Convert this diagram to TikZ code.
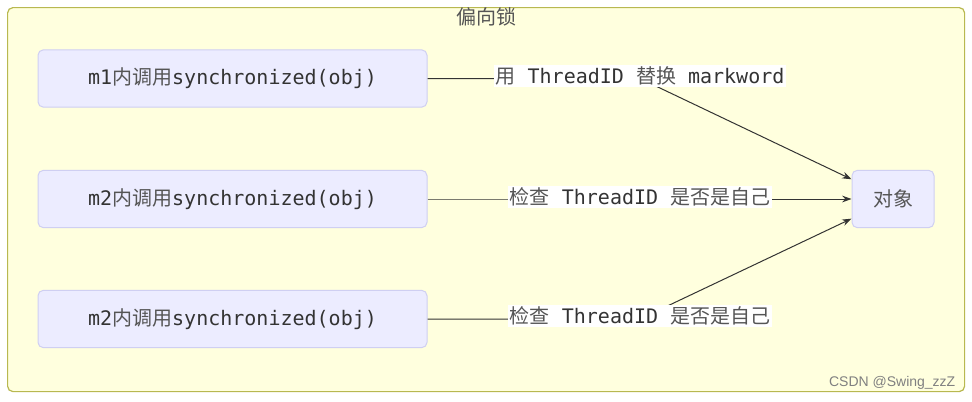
\documentclass[tikz,border=0pt]{standalone}
\usepackage{fontspec}
\setmainfont{DejaVu Sans Mono}
\newfontfamily\cjk{Noto Sans CJK SC}
\newfontfamily\wmfont{Liberation Sans}
\usetikzlibrary{arrows.meta}
\definecolor{bgY}{HTML}{FFFFDE}
\definecolor{bdY}{HTML}{B8B850}
\definecolor{boxF}{HTML}{ECECFF}
\definecolor{boxB}{HTML}{CFCFF2}
\definecolor{txt}{HTML}{333333}
\definecolor{cjkc}{HTML}{555555}
\newcommand{\zh}[1]{{\cjk\color{cjkc}#1}}
\begin{document}
\begin{tikzpicture}[x=0.75pt,y=-0.75pt,
  font=\fontsize{15}{18}\selectfont,
  proc/.style={draw=boxB, fill=boxF, rounded corners=4pt, minimum width=291.75pt,
    minimum height=43pt, text=txt, line width=0.75pt, inner sep=0pt},
  lbl/.style={fill=white, inner sep=1.5pt, text=txt},
  conn/.style={draw=txt, line width=0.75pt},
  arr/.style={conn, -{Stealth[length=7pt,width=5pt]}}]
\useasboundingbox (0,0) rectangle (972,401);
\node[draw=bdY, fill=bgY, rounded corners=4pt, line width=0.9pt, minimum width=717.75pt,
  minimum height=288pt, anchor=north west, inner sep=0pt] (frame) at (7,7) {};
\node (title) at (486,17) {\zh{偏向锁}};
\node[proc] (b1) at (232.5,78.5) {m1\zh{内调用}synchronized(obj)};
\node[proc] (b2) at (232.5,199) {m2\zh{内调用}synchronized(obj)};
\node[proc] (b3) at (232.5,319) {m2\zh{内调用}synchronized(obj)};
\node[proc, minimum width=61.5pt] (obj) at (893,199) {\zh{对象}};
\coordinate (c1) at (640,78.5);
\coordinate (c2) at (640,199);
\coordinate (c3) at (640,319);
\draw[arr] (b1.east) -- (c1) -- (obj);
\draw[arr] (b2.east) -- (c2) -- (obj);
\draw[arr] (b3.east) -- (c3) -- (obj);
\node[lbl] (l1) at (640,76) {\zh{用} ThreadID \zh{替换} markword};
\node[lbl] (l2) at (640,197) {\zh{检查} ThreadID \zh{是否是自己}};
\node[lbl] (l3) at (640,316) {\zh{检查} ThreadID \zh{是否是自己}};
\node[text=gray, font=\wmfont\fontsize{10.5}{12}\selectfont, anchor=east] (wm) at (960,383) {CSDN @Swing\_zzZ};
\end{tikzpicture}
\end{document}
